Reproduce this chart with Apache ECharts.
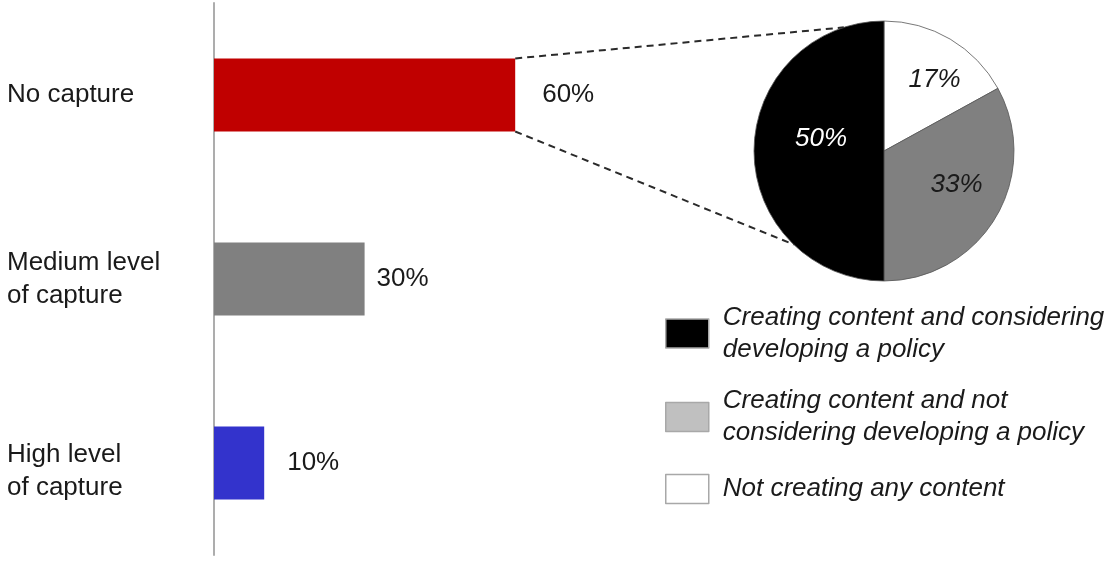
<!DOCTYPE html>
<html>
<head>
<meta charset="utf-8">
<script src="https://cdn.jsdelivr.net/npm/echarts@6/dist/echarts.min.js"></script>
<style>
html,body{margin:0;padding:0;background:#fff;}
#main{width:1113px;height:562px;}
</style>
</head>
<body>
<div id="main"></div>
<script>
// ---- data ----
const categories = ['No capture', 'Medium level\nof capture', 'High level\nof capture'];
const captureValues = [60, 30, 10];
const pieNames = [
  'Not creating any content',
  'Creating content and not\nconsidering developing a policy',
  'Creating content and considering\ndeveloping a policy'
];
const pieValues = [17, 33, 50];
const legendOrder = [2, 1, 0];

// ---- styles ----
const FONT = '"Liberation Sans", Arial, sans-serif';
const barColors = ['#C00000', '#808080', '#3333CC'];
const barLabelGaps = [27, 12, 23];
const catLabelDrop = [false, false, true];
const pieColors = ['#FFFFFF', '#808080', '#000000'];
const pieLabelColors = ['#1a1a1a', '#1a1a1a', '#FFFFFF'];
const pieLabelShift = [[8, -6.5], [7, -0.5], [2.5, -6]];
const legendColors = ['#FFFFFF', '#C0C0C0', '#000000'];
const legendTops = [294.5, 378, 471];
const legendTextPad = [[14, 0, 0, 9], [14, 0, 0, 9], [4, 0, 0, 9]];
const PIE_CENTER = [884, 151];
const PIE_R = 130;
const BAR_W = 73;

const chart = echarts.init(document.getElementById('main'), null, {renderer: 'canvas'});

const option = {
  animation: false,
  backgroundColor: '#fff',
  grid: {left: 214, width: 502, top: 3, bottom: 7, containLabel: false},
  xAxis: {type: 'value', min: 0, max: 100, show: false},
  yAxis: {
    type: 'category', inverse: true, data: categories,
    axisLine: {show: true, lineStyle: {color: '#ADADAD', width: 2}},
    axisTick: {show: false},
    splitLine: {show: false},
    axisLabel: {
      align: 'left', margin: 207, color: '#1a1a1a',
      fontFamily: FONT, fontSize: 26, lineHeight: 33,
      formatter: function (value, index) {
        const lines = value.split('\n').map(line => '{n|' + line + '}');
        if (catLabelDrop[index]) lines.unshift('{e| }');
        return lines.join('\n');
      },
      rich: {
        n: {fontFamily: FONT, fontSize: 26, lineHeight: 33, color: '#1a1a1a'},
        e: {fontFamily: FONT, fontSize: 8, lineHeight: 16}
      }
    }
  },
  legend: legendOrder.map((idx, i) => ({
    data: [{name: pieNames[idx], icon: 'rect',
            itemStyle: {color: legendColors[idx], borderColor: '#a8a8a8', borderWidth: 1.5}}],
    left: 665, top: legendTops[i], padding: 0,
    itemWidth: 43, itemHeight: 29, selectedMode: false,
    textStyle: {fontFamily: FONT, fontStyle: 'italic', fontSize: 26, color: '#1a1a1a',
                lineHeight: 32, padding: legendTextPad[i]}
  })),
  series: [
    {
      type: 'bar',
      barWidth: BAR_W,
      data: captureValues.map((v, i) => ({
        value: v,
        itemStyle: {color: barColors[i]},
        label: {distance: barLabelGaps[i]}
      })),
      label: {
        show: true, position: 'right', formatter: '{c}%',
        fontFamily: FONT, fontSize: 26, color: '#1a1a1a'
      }
    },
    {
      type: 'pie',
      center: PIE_CENTER,
      radius: PIE_R,
      startAngle: 90,
      clockwise: true,
      data: pieValues.map((v, i) => ({
        value: v, name: pieNames[i],
        itemStyle: {color: pieColors[i]},
        label: {color: pieLabelColors[i]}
      })),
      itemStyle: {borderColor: '#555', borderWidth: 0.8},
      label: {
        show: true, position: 'inside', formatter: '{c}%',
        fontFamily: FONT, fontStyle: 'italic', fontSize: 26
      },
      labelLine: {show: false},
      labelLayout: function (p) {
        const s = pieLabelShift[p.dataIndex];
        return {dx: s[0], dy: s[1]};
      },
      emphasis: {disabled: true}
    }
  ]
};
chart.setOption(option);

// dashed connectors from the end of the first bar to the pie
const barEnd = chart.convertToPixel({gridIndex: 0}, [captureValues[0], 0]);
function onCircle(deg) {
  const a = deg * Math.PI / 180;
  return [PIE_CENTER[0] + PIE_R * Math.cos(a), PIE_CENTER[1] - PIE_R * Math.sin(a)];
}
const topEnd = onCircle(108);
const botEnd = onCircle(226);
const dashStyle = {stroke: '#2a2a2a', lineWidth: 2, lineDash: [7, 5]};
chart.setOption({
  graphic: [
    {type: 'line', z: 100, shape: {x1: barEnd[0], y1: barEnd[1] - BAR_W / 2, x2: topEnd[0], y2: topEnd[1]}, style: dashStyle},
    {type: 'line', z: 100, shape: {x1: barEnd[0], y1: barEnd[1] + BAR_W / 2, x2: botEnd[0], y2: botEnd[1]}, style: dashStyle}
  ]
});
</script>
</body>
</html>
